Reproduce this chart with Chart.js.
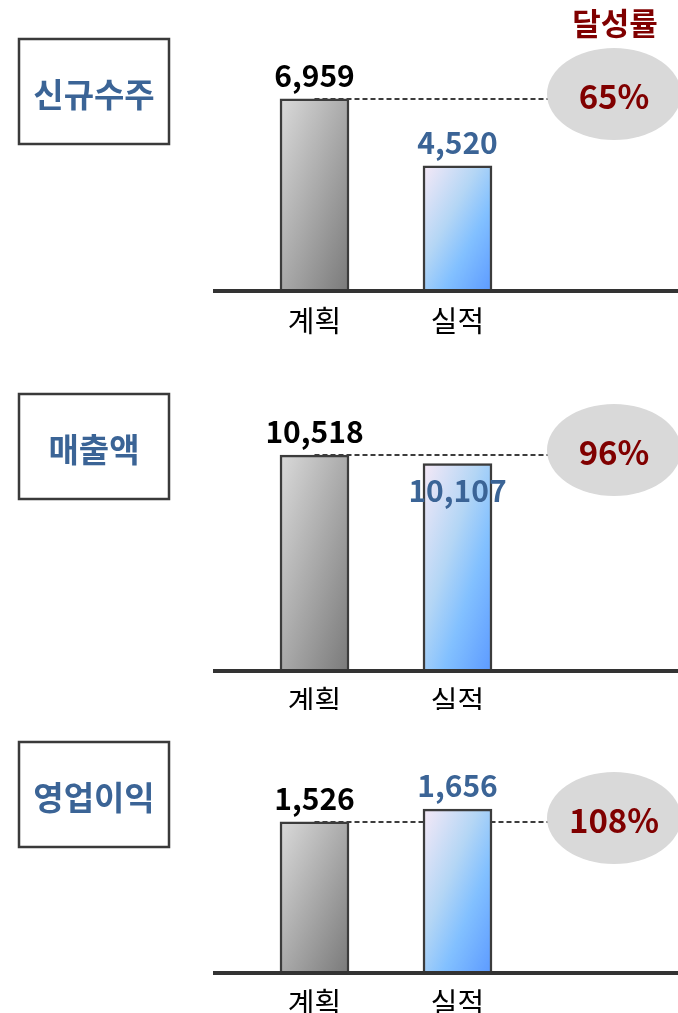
<!DOCTYPE html>
<html>
<head>
<meta charset="utf-8">
<script src="https://cdn.jsdelivr.net/npm/chart.js@4/dist/chart.umd.min.js"></script>
<style>
  body { margin: 0; background: #fff; width: 678px; height: 1013px; overflow: hidden; position: relative; }
  canvas { position: absolute; left: 0; }
</style>
</head>
<body>
<canvas id="panel-0"></canvas>
<canvas id="panel-1"></canvas>
<canvas id="panel-2"></canvas>
<script>
// data
const categories = ["계획", "실적"];
const metrics = ["신규수주", "매출액", "영업이익"];
const planValues = [6959, 10518, 1526];
const actualValues = [4520, 10107, 1656];
const rates = [65, 96, 108];
const rateTitle = "달성률";

const FONT = '"Noto Sans CJK KR", "Noto Sans", sans-serif';
const BLUE_TEXT = "#3b6496";
const RED_TEXT = "#800000";

// layout of each panel (canvas top/height, axis bottom, box, ellipse)
const panels = [
  { top: 0,   height: 340, bottom: 290, yMax: 9464,  boxTop: 38, ellipseY: 94,  actualDy: -12 },
  { top: 340, height: 370, bottom: 330, yMax: 14689, boxTop: 53, ellipseY: 110, actualDy: 38 },
  { top: 710, height: 303, bottom: 262, yMax: 2358,  boxTop: 31, ellipseY: 108, actualDy: -12 },
];

const gradStops = [
  [[0, "#dadada"], [1, "#7a7a7a"]],
  [[0, "#f6e9f7"], [0.4, "#b4d6f5"], [0.65, "#82c0ff"], [1, "#5c9aff"]],
];

function barFill(c) {
  const chart = c.chart;
  const area = chart.chartArea;
  const stops = gradStops[c.dataIndex];
  if (!area) return stops[stops.length - 1][1];
  const w = 69;
  const x0 = chart.scales.x.getPixelForValue(c.dataIndex) - w / 2;
  const y0 = chart.scales.y.getPixelForValue(c.raw);
  const h = Math.max(area.bottom - y0, 1);
  const k = 2 * w * h / (w * w + h * h);
  const g = chart.ctx.createLinearGradient(x0, y0, x0 + k * h, y0 + k * w);
  stops.forEach(s => g.addColorStop(s[0], s[1]));
  return g;
}

function makeDeco(i) {
  const p = panels[i];
  return {
    id: "deco" + i,
    beforeDatasetsDraw(chart) {
      const ctx = chart.ctx;
      const bar = chart.getDatasetMeta(0).data[0];
      ctx.save();
      ctx.strokeStyle = "#3c3c3c";
      ctx.lineWidth = 2;
      ctx.setLineDash([5, 3]);
      ctx.beginPath();
      ctx.moveTo(bar.x, Math.round(bar.y));
      ctx.lineTo(550, Math.round(bar.y));
      ctx.stroke();
      ctx.restore();
    },
    afterDatasetsDraw(chart) {
      const ctx = chart.ctx;
      const area = chart.chartArea;
      const bars = chart.getDatasetMeta(0).data;
      ctx.save();
      // baseline
      ctx.fillStyle = "#333";
      ctx.fillRect(213, area.bottom - 1, 465, 4);

      // value labels
      ctx.textAlign = "center";
      ctx.textBaseline = "alphabetic";
      ctx.font = "bold 30px " + FONT;
      ctx.fillStyle = "#000";
      ctx.fillText(planValues[i].toLocaleString("en-US"), bars[0].x, bars[0].y - 12);
      ctx.fillStyle = BLUE_TEXT;
      ctx.fillText(actualValues[i].toLocaleString("en-US"), bars[1].x, bars[1].y + p.actualDy);

      // rate ellipse
      ctx.fillStyle = "#d9d9d9";
      ctx.beginPath();
      ctx.ellipse(614, p.ellipseY, 67, 46, 0, 0, Math.PI * 2);
      ctx.fill();
      ctx.fillStyle = RED_TEXT;
      ctx.font = "bold 33px " + FONT;
      ctx.textBaseline = "middle";
      ctx.fillText(rates[i] + "%", 614, p.ellipseY + 2);

      // metric box
      ctx.strokeStyle = "#3a3a3a";
      ctx.lineWidth = 2.5;
      ctx.strokeRect(19, p.boxTop + 1, 150, 105);
      ctx.fillStyle = BLUE_TEXT;
      ctx.font = "bold 33px " + FONT;
      ctx.fillText(metrics[i], 94, p.boxTop + 56);

      if (i === 0) {
        ctx.fillStyle = RED_TEXT;
        ctx.font = "bold 31px " + FONT;
        ctx.fillText(rateTitle, 615, 23);
      }
      ctx.restore();
    }
  };
}

panels.forEach((p, i) => {
  const canvas = document.getElementById("panel-" + i);
  canvas.width = 678;
  canvas.height = p.height;
  canvas.style.top = p.top + "px";
  new Chart(canvas.getContext("2d"), {
    type: "bar",
    data: {
      labels: categories,
      datasets: [{
        data: [planValues[i], actualValues[i]],
        backgroundColor: barFill,
        borderColor: "#3c3c3c",
        borderWidth: 2.5,
        barThickness: 69,
      }],
    },
    options: {
      responsive: false,
      animation: false,
      layout: { padding: { left: 243, right: 149, top: 30, bottom: 0 } },
      plugins: { legend: { display: false }, tooltip: { enabled: false } },
      scales: {
        y: { display: false, min: 0, max: p.yMax },
        x: {
          grid: { display: false, drawTicks: false },
          border: { display: false },
          ticks: { color: "#000", padding: 14, font: { family: FONT, size: 29 } },
          afterFit: s => { s.height = p.height - p.bottom; },
        },
      },
    },
    plugins: [makeDeco(i)],
  });
});
</script>
</body>
</html>
